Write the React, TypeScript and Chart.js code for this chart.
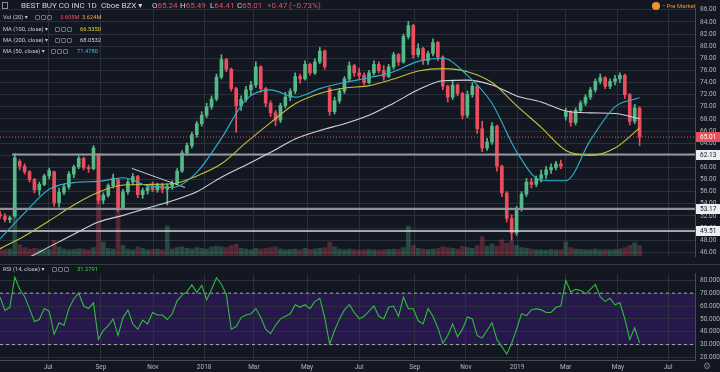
import React, { useEffect, useRef } from "react";
import { Chart, registerables } from "chart.js";

Chart.register(...registerables);

// ---------------- DATA (one bar = 4 trading sessions, Jun 2017 – May 2019) ----------------
const barOpen = [
  52.3, 52.0, 51.4, 52.0, 61.0, 60.2, 59.3, 58.0, 56.3, 57.2,
  58.6, 59.3, 54.2, 55.9, 56.8, 58.9, 60.1, 61.5, 60.0, 59.8,
  62.0, 54.6, 55.4, 57.0, 58.0, 53.4, 56.0, 57.6, 58.5, 55.5,
  56.2, 56.7, 56.3, 57.1, 56.4, 56.9, 57.4, 59.4, 62.4, 63.6,
  65.4, 67.2, 68.6, 70.0, 71.3, 74.9, 77.8, 76.2, 73.0, 70.2,
  71.2, 72.8, 73.6, 76.6, 73.0, 70.6, 69.0, 67.8, 70.2, 71.6,
  72.6, 75.0, 74.6, 77.0, 75.6, 77.4, 79.2, 73.0, 69.2, 71.0,
  72.6, 74.6, 76.8, 75.6, 75.2, 74.0, 75.6, 77.0, 76.0, 75.0,
  76.6, 78.6, 77.4, 81.6, 83.4, 78.6, 79.6, 77.6, 78.8, 80.6,
  78.2, 73.4, 71.6, 73.6, 72.2, 68.6, 72.0, 73.4, 66.4, 63.2,
  64.2, 66.8, 60.2, 55.8, 51.6, 49.2, 53.2, 55.6, 57.6, 57.2,
  58.2, 58.8, 59.6, 60.0, 60.6, 68.4, 69.2, 67.4, 69.4, 70.6,
  71.6, 72.8, 74.2, 74.8, 73.4, 74.2, 74.6, 75.2, 72.0, 67.6,
  69.8,
];
const barHigh = [
  52.8, 52.4, 52.0, 62.3, 61.3, 60.6, 59.5, 58.2, 57.6, 58.9,
  59.9, 59.4, 56.6, 57.2, 59.3, 60.4, 61.9, 61.7, 60.4, 63.6,
  62.3, 55.8, 57.3, 58.9, 58.2, 56.4, 58.0, 59.0, 58.7, 56.6,
  57.1, 57.6, 57.4, 57.4, 57.3, 57.8, 59.8, 62.8, 64.0, 65.8,
  67.6, 69.2, 70.6, 71.8, 75.4, 78.6, 78.0, 76.4, 73.2, 71.8,
  73.4, 74.2, 77.4, 76.8, 73.2, 71.0, 69.4, 70.6, 72.4, 73.0,
  75.6, 75.4, 77.6, 77.2, 77.9, 79.8, 79.4, 73.2, 71.6, 73.0,
  75.0, 77.4, 77.0, 76.4, 75.6, 76.0, 77.6, 77.4, 76.8, 77.0,
  79.0, 78.8, 82.0, 84.1, 83.6, 80.4, 79.8, 79.2, 81.2, 80.8,
  78.4, 73.6, 74.2, 73.8, 72.4, 72.6, 74.0, 73.6, 67.6, 64.8,
  67.4, 67.0, 60.4, 56.0, 52.2, 53.6, 56.0, 58.2, 58.2, 58.6,
  59.6, 60.2, 60.6, 61.0, 61.2, 69.8, 69.4, 69.8, 71.0, 72.0,
  73.2, 74.6, 75.4, 75.0, 74.6, 75.2, 75.6, 75.4, 72.2, 70.4,
  70.0,
];
const barLow = [
  51.6, 51.0, 50.9, 51.8, 59.6, 58.9, 57.6, 55.8, 55.4, 57.0,
  58.1, 53.6, 53.5, 55.5, 56.4, 58.3, 59.8, 59.6, 59.2, 59.6,
  54.0, 54.0, 55.1, 56.6, 52.8, 53.1, 55.6, 57.1, 55.0, 54.9,
  55.6, 56.0, 55.9, 55.8, 53.8, 56.4, 57.2, 59.2, 62.0, 63.2,
  65.0, 66.8, 68.2, 69.6, 71.0, 74.6, 75.8, 72.6, 65.8, 69.4,
  70.8, 72.0, 73.2, 72.4, 70.0, 68.4, 66.9, 67.4, 69.8, 71.0,
  72.2, 73.9, 74.4, 75.2, 75.3, 77.1, 76.2, 68.6, 68.8, 70.6,
  72.2, 74.2, 75.0, 74.6, 73.6, 73.8, 75.2, 75.6, 74.4, 74.8,
  76.2, 76.8, 77.2, 81.2, 78.0, 78.2, 77.0, 77.0, 78.4, 77.6,
  72.8, 70.8, 71.2, 71.8, 68.0, 68.2, 71.6, 65.6, 62.6, 62.8,
  63.8, 59.4, 55.2, 51.0, 48.0, 48.8, 52.8, 55.2, 56.6, 56.8,
  57.6, 58.2, 59.0, 59.6, 59.8, 67.8, 66.8, 67.0, 69.0, 70.2,
  71.2, 72.4, 73.8, 73.0, 73.0, 73.6, 74.0, 71.4, 67.0, 67.2,
  63.6,
];
const barClose = [
  52.0, 51.4, 51.7, 61.6, 60.2, 59.3, 58.0, 56.3, 57.2, 58.6,
  59.5, 54.2, 55.9, 56.8, 58.9, 60.1, 61.5, 60.0, 59.8, 63.2,
  54.6, 55.4, 57.0, 58.2, 53.4, 56.0, 57.6, 58.5, 55.5, 56.2,
  56.7, 56.3, 57.1, 56.4, 56.9, 57.4, 59.4, 62.4, 63.6, 65.4,
  67.2, 68.6, 70.0, 71.3, 74.9, 77.8, 76.2, 73.0, 70.2, 71.2,
  72.8, 73.6, 76.6, 73.0, 70.6, 69.0, 67.8, 70.2, 71.6, 72.6,
  75.0, 74.6, 77.0, 75.6, 77.4, 79.2, 76.6, 69.2, 71.0, 72.6,
  74.6, 76.8, 75.6, 75.2, 74.0, 75.6, 77.0, 76.0, 75.0, 76.6,
  78.6, 77.4, 81.6, 83.4, 78.6, 79.6, 77.6, 78.8, 80.6, 78.2,
  73.4, 71.6, 73.6, 72.2, 68.6, 72.0, 73.4, 66.4, 63.2, 64.2,
  66.8, 60.2, 55.8, 51.6, 49.2, 53.2, 55.6, 57.6, 57.2, 58.2,
  58.8, 59.6, 60.0, 60.6, 60.2, 69.2, 67.4, 69.4, 70.6, 71.6,
  72.8, 74.2, 74.8, 73.4, 74.2, 74.6, 75.2, 72.0, 67.6, 69.8,
  65.01,
];
// volume in millions of shares (per bar, as drawn on the chart)
const barVolume = [
  2.2, 1.8, 2.0, 15.0, 3.2, 2.4, 2.0, 2.2, 2.0, 1.8,
  1.9, 4.5, 2.6, 2.0, 1.8, 1.9, 2.1, 2.0, 1.8, 2.4,
  21.0, 4.0, 2.2, 2.0, 17.5, 3.0, 2.0, 1.8, 2.6, 2.2,
  1.8, 1.9, 2.0, 1.8, 8.5, 2.0, 2.4, 2.6, 2.2, 2.0,
  2.4, 2.2, 2.0, 2.6, 2.8, 2.6, 2.4, 3.0, 3.4, 2.2,
  2.0, 1.8, 2.2, 2.0, 2.2, 2.4, 2.6, 2.0, 1.8, 1.9,
  2.0, 1.8, 2.2, 1.9, 2.0, 2.2, 2.4, 4.0, 2.6, 2.0,
  1.8, 2.0, 1.8, 1.7, 1.8, 1.9, 1.8, 1.7, 1.8, 1.9,
  2.0, 1.9, 2.4, 8.5, 3.0, 2.2, 2.0, 1.9, 2.0, 2.2,
  2.6, 2.4, 2.2, 2.0, 2.8, 2.4, 2.2, 3.0, 5.5, 2.8,
  3.4, 2.8, 4.6, 3.6, 4.2, 3.0, 2.4, 2.2, 2.0, 1.8,
  1.8, 1.7, 1.9, 1.8, 1.8, 4.0, 2.4, 2.0, 1.9, 1.8,
  1.8, 2.0, 1.8, 1.9, 1.8, 1.9, 2.0, 2.4, 3.0, 3.8,
  3.0,
];
// moving averages sampled every MA_STEP bars
const MA_STEP = 5;
const ma50 = [48.2, 52.5, 56.4, 57.5, 57.7, 58.3, 57.0, 56.7, 59.2, 64.8, 71.2, 72.8, 71.6, 73.0, 74.0, 74.8, 75.8, 77.5, 78.0, 75.2, 70.6, 62.6, 57.9, 57.8, 64.5, 70.0, 71.48];
const ma100 = [46.6, 48.7, 51.2, 53.8, 55.9, 57.1, 57.2, 57.3, 58.6, 60.6, 64.1, 67.4, 70.5, 72.2, 73.1, 73.5, 74.6, 75.9, 76.3, 75.8, 74.0, 70.2, 66.6, 62.8, 62.0, 63.2, 66.54];
const ma200 = [42.9, 44.8, 46.9, 49.0, 51.0, 52.1, 53.3, 54.5, 56.0, 58.4, 60.4, 62.5, 64.7, 66.1, 67.2, 68.6, 70.6, 72.8, 74.3, 74.4, 73.6, 71.8, 70.8, 69.3, 69.0, 68.9, 68.05];
// RSI(14) per bar
const rsi14 = [
  67, 56.6, 59, 82.5, 73, 67.5, 58, 48, 49.5, 58,
  56, 38, 47, 45, 58, 65.5, 70, 60, 58, 62.5,
  34.2, 41, 44.8, 50, 37, 51, 57, 46, 42, 49,
  46, 55, 53, 53, 49.5, 54, 64, 68.5, 71, 76.5,
  70.7, 76, 64.8, 73, 82, 77, 69, 42, 44, 51,
  53, 54, 58, 51, 42, 38.5, 45, 50, 52, 54,
  61, 59, 61, 58, 63.6, 66, 51, 30.5, 41, 50,
  57, 61, 55, 50, 52, 56, 60, 52, 50, 59,
  60, 52, 67, 58, 57.8, 48.5, 46, 58, 52, 43,
  31, 37, 46, 36, 42, 51.5, 50, 37, 35, 41,
  47, 34, 28.4, 22.5, 31, 42, 54, 52.5, 57, 58,
  57, 55, 55, 59, 60, 80, 71, 73, 72, 69.5,
  73, 76.8, 67, 63.6, 66, 61, 62.5, 50, 34, 43,
  31.28,
];
// month boundaries in bar units
const monthTickPos = [9.76, 20.5, 31.1, 41.5, 51.6, 62.4, 73.0, 84.3, 94.7, 105.1, 115.0, 125.6, 135.8];
const monthTickLabels = ["Jul", "Sep", "Nov", "2018", "Mar", "May", "Jul", "Sep", "Nov", "2019", "Mar", "May", "Jul"];
const priceTicks = [46, 48, 50, 52, 54, 56, 58, 60, 62, 64, 66, 68, 70, 72, 74, 76, 78, 80, 82, 84, 86];
const rsiTicks = [20, 30, 40, 50, 60, 70, 80];
const rsiBands = [70, 30];
// horizontal levels: last price, then drawn support lines
const levelPrices = [65.01, 62.13, 53.17, 49.51];
const levelFrom = [0, 2.45, 0, 0];
// drawn trend line (bar units / price)
const trendX = [26.8, 37.6];
const trendY = [59.85, 56.7];

// ---------------- STYLE ----------------
const X_MIN = 0;
const X_MAX = 141.26;
const PRICE_MIN = 45.38;
const PRICE_MAX = 86.15;
const VOL_MAX = 70;
const RSI_MIN = 18;
const RSI_MAX = 85;
const BG = "#131722";
const GRID = "#2c303d";
const AXIS_TXT = "#b2b5be";
const UP = "#53b987";
const DOWN = "#eb4d5c";
const FONT = "Roboto, 'DejaVu Sans', sans-serif";
const levelLineColors = [DOWN, "#9598a1", "#8f929b", "#d6d8de"];
const levelLineWidths = [1, 2, 2.2, 1.5];
const levelBoxBg = [DOWN, "#eceef2", "#eceef2", "#eceef2"];
const levelBoxFg = ["#ffffff", "#131722", "#131722", "#131722"];

const monthXAxisBase = {
  type: "linear" as const,
  min: X_MIN,
  max: X_MAX,
  offset: false,
  afterBuildTicks: (s: any) => {
    s.ticks = monthTickPos.map((v) => ({ value: v }));
  },
};

const levelBoxPlugin = {
  id: "levelBoxes",
  afterDraw(chart: any) {
    const { ctx, chartArea, scales } = chart;
    const ys = scales.y;
    levelPrices.forEach((p, k) => {
      const y = ys.getPixelForValue(p);
      ctx.save();
      ctx.fillStyle = levelBoxBg[k];
      ctx.fillRect(chartArea.right + 1, Math.round(y) - 5, 24, 10);
      ctx.fillStyle = levelBoxFg[k];
      ctx.font = `6.5px ${FONT}`;
      ctx.textBaseline = "middle";
      ctx.textAlign = "left";
      ctx.fillText(p.toFixed(2), chartArea.right + 5, Math.round(y) + 0.5);
      ctx.restore();
    });
  },
};

const rsiBandPlugin = {
  id: "rsiBand",
  beforeDraw(chart: any) {
    const { ctx, chartArea, scales } = chart;
    const y1 = scales.y.getPixelForValue(rsiBands[0]);
    const y2 = scales.y.getPixelForValue(rsiBands[1]);
    ctx.save();
    ctx.fillStyle = "#27184c";
    ctx.fillRect(chartArea.left, y1, chartArea.right - chartArea.left, y2 - y1);
    ctx.restore();
  },
};

function PriceChart() {
  const ref = useRef<HTMLCanvasElement>(null);
  useEffect(() => {
    if (!ref.current) return;
    const isUp = barOpen.map((o, i) => barClose[i] >= o);
    const maData = (arr: number[]) => arr.map((v, j) => ({ x: j * MA_STEP, y: v }));
    const levelSets = levelPrices.map((p, k) => ({
      type: "line" as const,
      data: [
        { x: levelFrom[k], y: p },
        { x: X_MAX, y: p },
      ],
      borderColor: levelLineColors[k],
      borderWidth: levelLineWidths[k],
      borderDash: k === 0 ? [1, 2] : [],
      pointRadius: 0,
      order: k === 0 ? 0 : 3,
      yAxisID: "y",
    }));
    const chart = new Chart(ref.current, {
      type: "bar",
      data: {
        datasets: [
          {
            type: "line",
            data: maData(ma50),
            borderColor: "#2bb3c6",
            borderWidth: 1.1,
            pointRadius: 0,
            cubicInterpolationMode: "monotone",
            order: 1,
            yAxisID: "y",
          },
          {
            type: "line",
            data: maData(ma100),
            borderColor: "#c3c13a",
            borderWidth: 1.1,
            pointRadius: 0,
            cubicInterpolationMode: "monotone",
            order: 1,
            yAxisID: "y",
          },
          {
            type: "line",
            data: maData(ma200),
            borderColor: "#d2d4d8",
            borderWidth: 1.1,
            pointRadius: 0,
            cubicInterpolationMode: "monotone",
            order: 1,
            yAxisID: "y",
          },
          {
            type: "line",
            data: trendX.map((x, k) => ({ x, y: trendY[k] })),
            borderColor: "#c9ccd4",
            borderWidth: 1,
            pointRadius: 0,
            order: 1,
            yAxisID: "y",
          },
          ...levelSets,
          {
            type: "bar",
            data: barOpen.map((o, i) => ({ x: i, y: [o, barClose[i]] })),
            backgroundColor: isUp.map((u) => (u ? UP : DOWN)),
            barThickness: 3,
            minBarLength: 1,
            grouped: false,
            borderWidth: 0,
            order: 4,
            yAxisID: "y",
          },
          {
            type: "bar",
            data: barLow.map((l, i) => ({ x: i, y: [l, barHigh[i]] })),
            backgroundColor: isUp.map((u) => (u ? UP : DOWN)),
            barThickness: 1,
            grouped: false,
            borderWidth: 0,
            order: 5,
            yAxisID: "y",
          },
          {
            type: "bar",
            data: barVolume.map((v, i) => ({ x: i, y: v })),
            backgroundColor: isUp.map((u) => (u ? "rgba(83,185,135,0.3)" : "rgba(235,77,92,0.3)")),
            barThickness: 4,
            grouped: false,
            borderWidth: 0,
            order: 8,
            yAxisID: "yVol",
          },
        ] as any,
      },
      options: {
        responsive: false,
        animation: false,
        events: [],
        layout: { padding: 0 },
        plugins: { legend: { display: false }, tooltip: { enabled: false } },
        scales: {
          x: {
            ...monthXAxisBase,
            grid: { color: GRID, drawTicks: false, offset: false },
            border: { display: false },
            ticks: { display: false },
            afterFit: (s: any) => {
              s.height = 0;
            },
          },
          y: {
            type: "linear",
            position: "right",
            min: PRICE_MIN,
            max: PRICE_MAX,
            grid: { color: GRID, drawTicks: false },
            border: { display: true, color: "#474b57" },
            ticks: {
              color: AXIS_TXT,
              font: { size: 6.5, family: FONT },
              padding: 5,
              callback: (v: any) => Number(v).toFixed(2),
            },
            afterBuildTicks: (s: any) => {
              s.ticks = priceTicks.map((v) => ({ value: v }));
            },
            afterFit: (s: any) => {
              s.width = 25;
            },
          },
          yVol: { type: "linear", display: false, min: 0, max: VOL_MAX },
        },
      } as any,
      plugins: [levelBoxPlugin],
    });
    return () => chart.destroy();
  }, []);
  return <canvas ref={ref} width={720} height={265} style={{ position: "absolute", left: 0, top: 0, width: 720, height: 265 }} />;
}

function RsiChart() {
  const ref = useRef<HTMLCanvasElement>(null);
  useEffect(() => {
    if (!ref.current) return;
    const chart = new Chart(ref.current, {
      type: "line",
      data: {
        datasets: [
          {
            data: rsi14.map((v, i) => ({ x: i, y: v })),
            borderColor: "#2fbd3b",
            borderWidth: 1.1,
            pointRadius: 0,
            tension: 0,
            order: 0,
          },
          ...rsiBands.map((b) => ({
            data: [
              { x: X_MIN, y: b },
              { x: X_MAX, y: b },
            ],
            borderColor: "#a6a9b2",
            borderWidth: 1,
            borderDash: [3, 3],
            pointRadius: 0,
            order: 2,
          })),
        ] as any,
      },
      options: {
        responsive: false,
        animation: false,
        events: [],
        layout: { padding: 0 },
        plugins: { legend: { display: false }, tooltip: { enabled: false } },
        scales: {
          x: {
            ...monthXAxisBase,
            position: "bottom",
            grid: { color: GRID, drawTicks: false },
            border: { display: true, color: "#474b57" },
            ticks: {
              color: AXIS_TXT,
              font: { size: 6.5, family: FONT },
              padding: 3,
              maxRotation: 0,
              autoSkip: false,
              callback: (_v: any, i: number) => monthTickLabels[i],
            },
            afterFit: (s: any) => {
              s.height = 12;
            },
          },
          y: {
            type: "linear",
            position: "right",
            min: RSI_MIN,
            max: RSI_MAX,
            grid: { color: GRID, drawTicks: false },
            border: { display: true, color: "#474b57" },
            ticks: {
              color: AXIS_TXT,
              font: { size: 6.5, family: FONT },
              padding: 5,
              callback: (v: any) => Number(v).toFixed(4),
            },
            afterBuildTicks: (s: any) => {
              s.ticks = rsiTicks.map((v) => ({ value: v }));
            },
            afterFit: (s: any) => {
              s.width = 25;
            },
          },
        },
      } as any,
      plugins: [rsiBandPlugin],
    });
    return () => chart.destroy();
  }, []);
  return <canvas ref={ref} width={720} height={107} style={{ position: "absolute", left: 0, top: 265, width: 720, height: 107 }} />;
}

function Txt(props: { x: number; y: number; size: number; color: string; children: React.ReactNode }) {
  return (
    <div
      style={{
        position: "absolute",
        left: props.x,
        top: props.y,
        fontSize: props.size,
        color: props.color,
        fontFamily: FONT,
        lineHeight: 1,
        whiteSpace: "nowrap",
      }}
    >
      {props.children}
    </div>
  );
}

function Icons({ x, y }: { x: number; y: number }) {
  return (
    <>
      {[0, 6, 12].map((d) => (
        <div
          key={d}
          style={{
            position: "absolute",
            left: x + d,
            top: y,
            width: 3,
            height: 3,
            border: "1px solid #6f727c",
            borderRadius: 1,
          }}
        />
      ))}
    </>
  );
}

export default function App() {
  useEffect(() => {
    document.body.style.margin = "0";
    document.body.style.background = BG;
  }, []);
  const red = "#eb4d5c";
  const lbl = "#c9ccd4";
  const LS = 5.8;
  return (
    <div style={{ position: "relative", width: 720, height: 372, background: BG, overflow: "hidden" }}>
      <PriceChart />
      <div style={{ position: "absolute", left: 0, top: 264, width: 720, height: 1, background: "#363a45" }} />
      <RsiChart />

      {/* header legend */}
      <div style={{ position: "absolute", left: 2, top: 2, width: 4, height: 5, border: "1px solid #8a8d96" }} />
      <Txt x={21} y={2} size={8} color="#d1d4dc">BEST BUY CO INC</Txt>
      <Txt x={87} y={2} size={8} color="#d1d4dc">1D</Txt>
      <Txt x={101} y={2} size={8} color="#d1d4dc">Cboe BZX ▾</Txt>
      <Txt x={152} y={2} size={8} color="#d1d4dc">O<span style={{ color: red }}>65.24</span></Txt>
      <Txt x={180} y={2} size={8} color="#d1d4dc">H<span style={{ color: red }}>65.49</span></Txt>
      <Txt x={210} y={2} size={8} color="#d1d4dc">L<span style={{ color: red }}>64.41</span></Txt>
      <Txt x={237} y={2} size={8} color="#d1d4dc">C<span style={{ color: red }}>65.01</span></Txt>
      <Txt x={267} y={2} size={8} color={red}>+0.47 (−0.73%)</Txt>

      <Txt x={3} y={14.5} size={LS} color={lbl}>Vol (20) ▾</Txt>
      <Icons x={35} y={15} />
      <Txt x={60} y={14.5} size={LS} color="#e8505c">3.605M</Txt>
      <Txt x={82} y={14.5} size={LS} color="#f0a05a">3.624M</Txt>

      <Txt x={3} y={26.5} size={LS} color={lbl}>MA (100, close) ▾</Txt>
      <Icons x={55} y={27} />
      <Txt x={80} y={26.5} size={LS} color="#d8d43a">66.5350</Txt>

      <Txt x={3} y={37.5} size={LS} color={lbl}>MA (200, close) ▾</Txt>
      <Icons x={55} y={38} />
      <Txt x={80} y={37.5} size={LS} color="#d1d4dc">68.0532</Txt>

      <Txt x={3} y={48.5} size={LS} color={lbl}>MA (50, close) ▾</Txt>
      <Icons x={51} y={49} />
      <Txt x={77} y={48.5} size={LS} color="#2ec4d6">71.4780</Txt>

      <Txt x={3} y={266.5} size={LS} color={lbl}>RSI (14, close) ▾</Txt>
      <Icons x={52} y={267} />
      <Txt x={77} y={266.5} size={LS} color="#3cd13c">31.2791</Txt>

      {/* pre-market badge */}
      <div style={{ position: "absolute", left: 652, top: 2, width: 8, height: 8, borderRadius: 4, background: "#f0922b" }} />
      <Txt x={663} y={3} size={6} color="#f0922b">• Pre Market</Txt>

      <Txt x={703} y={362} size={9} color="#787b86">⚙</Txt>
    </div>
  );
}
